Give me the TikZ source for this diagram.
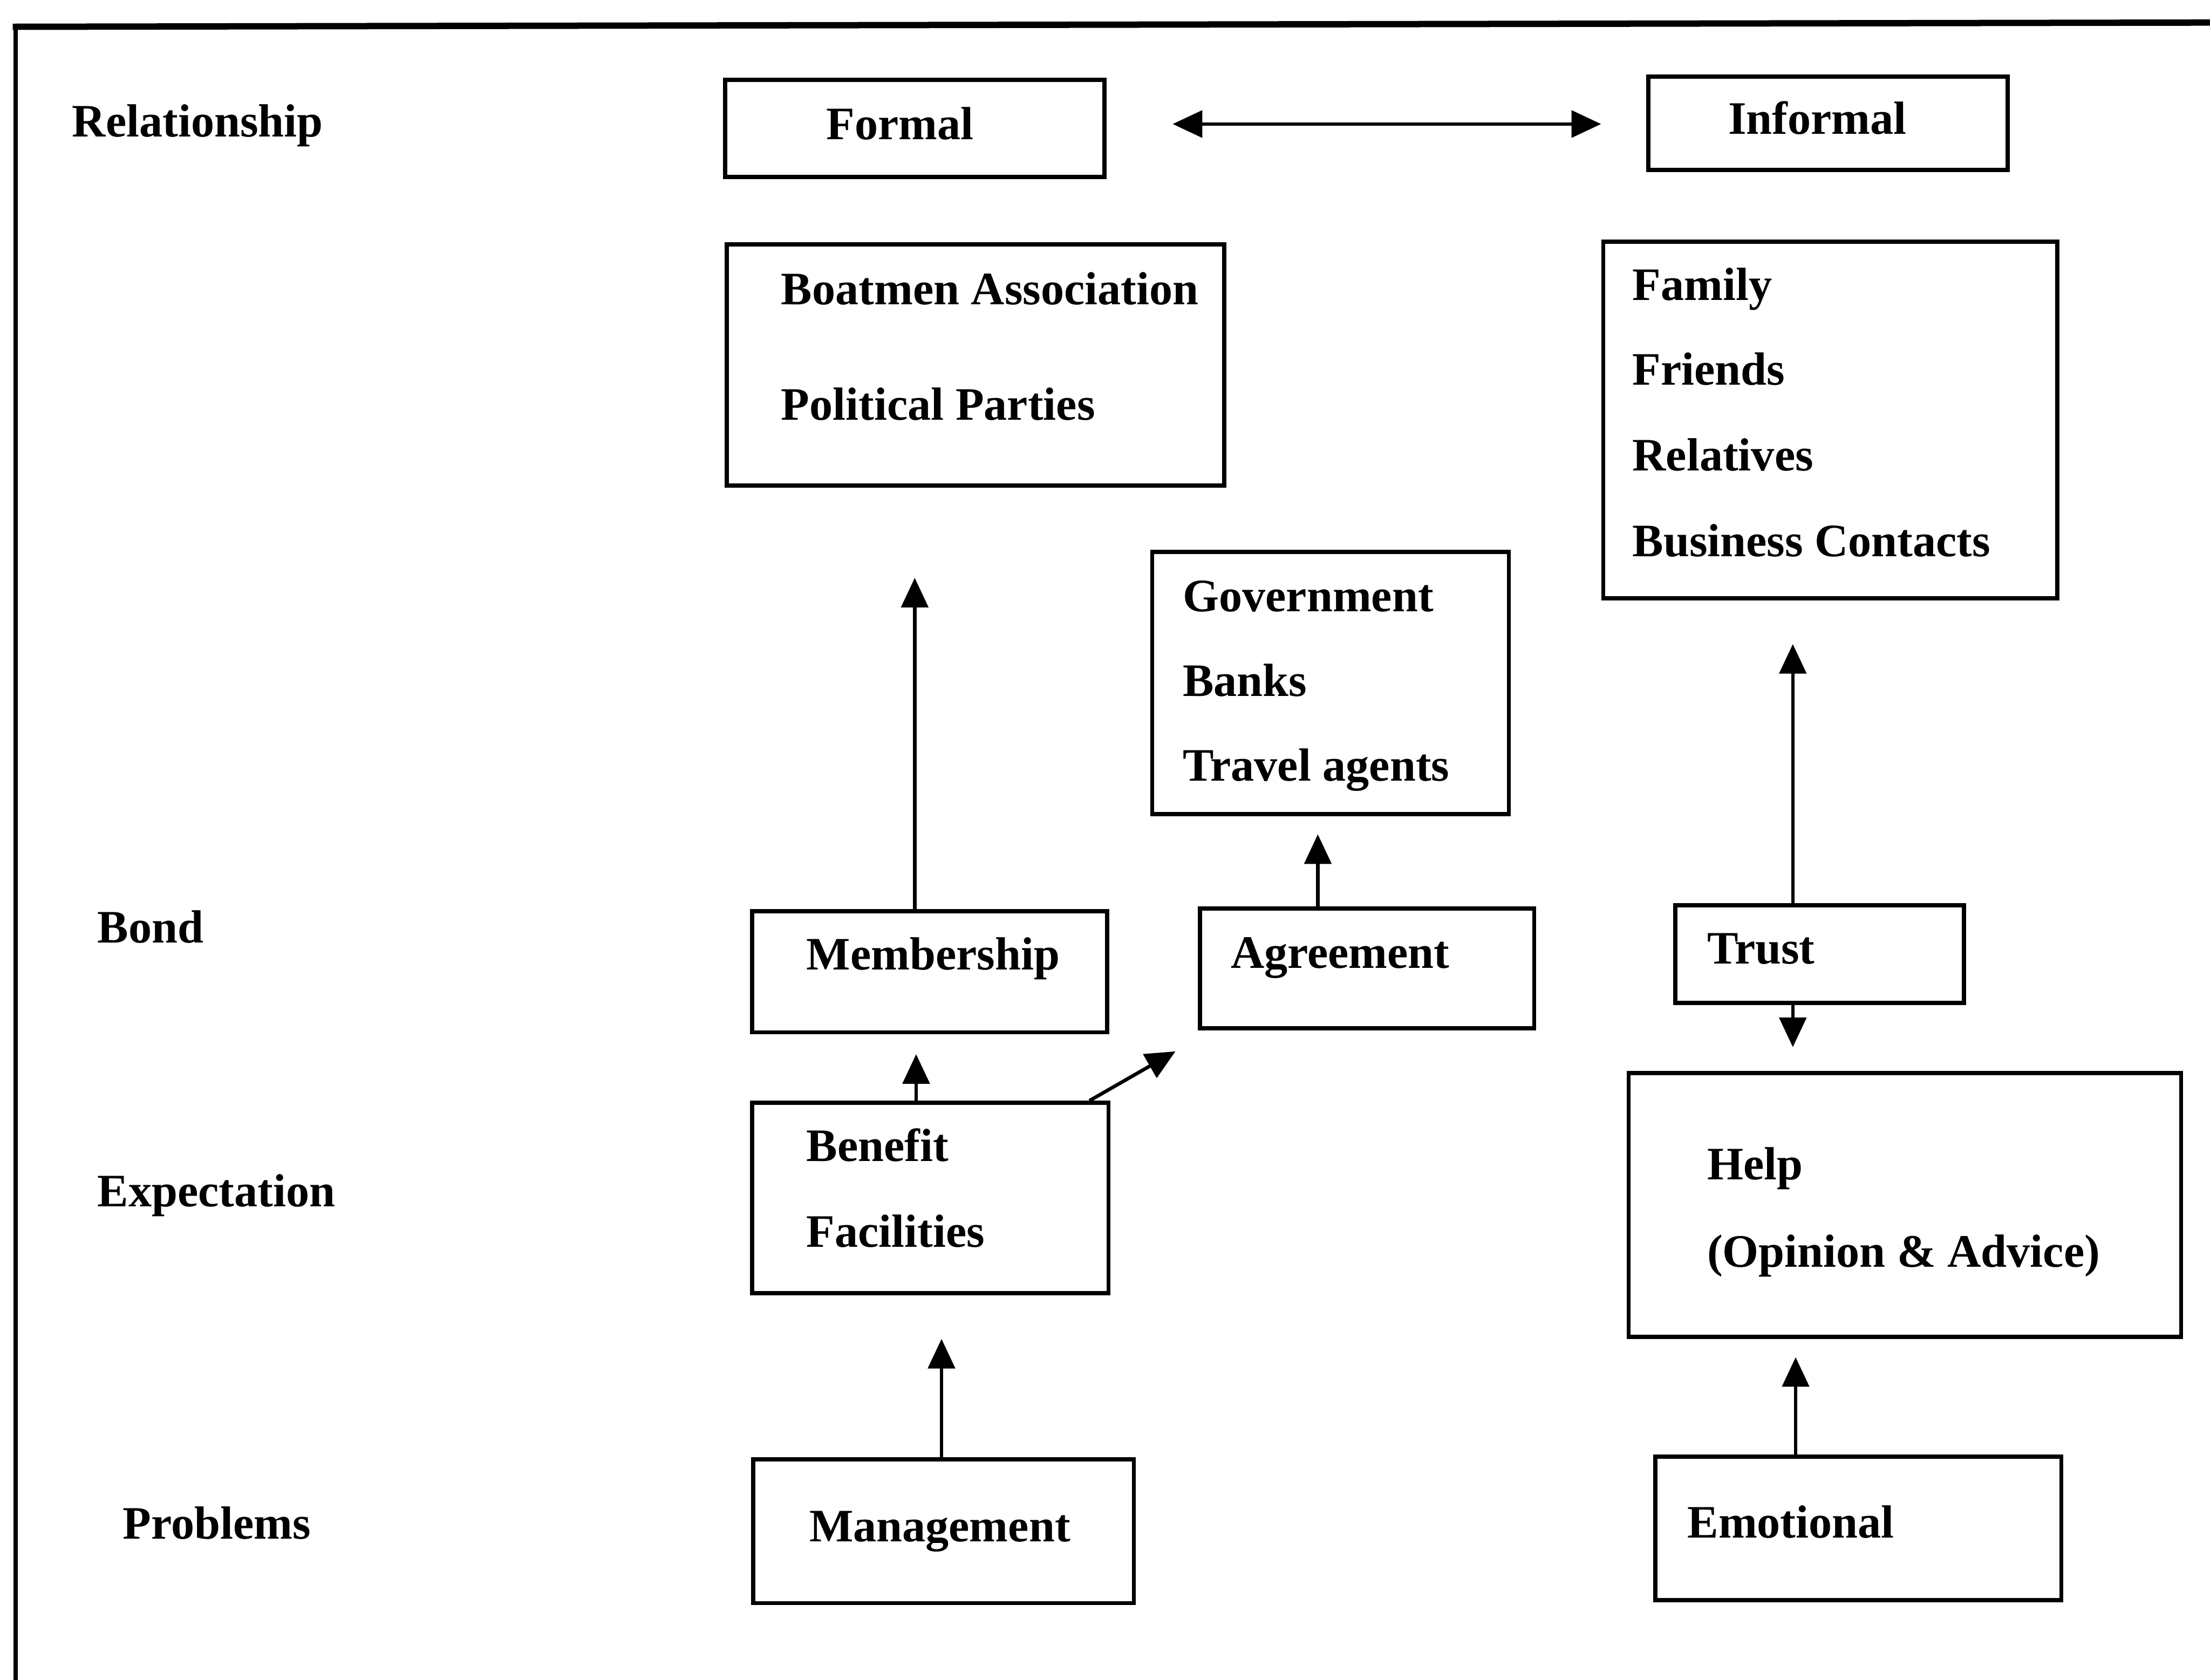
\documentclass[tikz,border=0pt]{standalone}
\usepackage{fontspec}
\setmainfont{Liberation Serif}
\usetikzlibrary{arrows.meta}

\tikzset{every picture/.style={line width=2.5pt}}
\tikzset{
  box/.style={draw, line width=3pt, inner sep=0pt, anchor=north west},
  lbl/.style={anchor=base west, inner sep=0pt, font=\bfseries\fontsize{33}{40}\selectfont},
  arr/.style={-{Triangle[length=21pt,width=19pt]}, line width=2.5pt},
  frame/.style={line width=3pt}
}

\begin{document}
\begin{tikzpicture}[x=1pt,y=1pt,yscale=-1,xscale=1]
	\useasboundingbox (0,0) rectangle (1568,1192);

	%Shape: Frame
	\draw [frame] (11,1192) -- (11,19) ;
	\draw [line width=4.5pt] (9,19) -- (1568,16) ;

	%Shape: Rectangle [Formal]
	\node [box, minimum width=269, minimum height=69] (formal) at (513,55) {};
	%Shape: Rectangle [Informal]
	\node [box, minimum width=255, minimum height=66] (informal) at (1168,53) {};
	%Shape: Rectangle [Associations]
	\node [box, minimum width=353, minimum height=171] (assoc) at (514,172) {};
	%Shape: Rectangle [Family]
	\node [box, minimum width=322, minimum height=253] (family) at (1136,170) {};
	%Shape: Rectangle [Government]
	\node [box, minimum width=253, minimum height=186] (govt) at (816,390) {};
	%Shape: Rectangle [Membership]
	\node [box, minimum width=252, minimum height=86] (memb) at (532,645) {};
	%Shape: Rectangle [Agreement]
	\node [box, minimum width=237, minimum height=85] (agree) at (850,643) {};
	%Shape: Rectangle [Trust]
	\node [box, minimum width=205, minimum height=69] (trust) at (1187,641) {};
	%Shape: Rectangle [Benefit]
	\node [box, minimum width=253, minimum height=135] (benefit) at (532,781) {};
	%Shape: Rectangle [Help]
	\node [box, minimum width=392, minimum height=187] (help) at (1154,760) {};
	%Shape: Rectangle [Management]
	\node [box, minimum width=270, minimum height=102] (mgmt) at (533,1034) {};
	%Shape: Rectangle [Emotional]
	\node [box, minimum width=288, minimum height=102] (emot) at (1173,1032) {};

	% Text Node
	\node [lbl] (tRel) at (50,97) {Relationship};
	% Text Node
	\node [lbl] (tBond) at (68,669) {Bond};
	% Text Node
	\node [lbl] (tExp) at (68,856) {Expectation};
	% Text Node
	\node [lbl] (tProb) at (86,1092) {Problems};
	% Text Node
	\node [lbl] (tFormal) at (585,99) {Formal};
	% Text Node
	\node [lbl] (tInformal) at (1225,95) {Informal};
	% Text Node
	\node [lbl] (tBoat) at (553,216) {Boatmen Association};
	% Text Node
	\node [lbl] (tPol) at (553,298) {Political Parties};
	% Text Node
	\node [lbl] (tFam) at (1157,213) {Family};
	% Text Node
	\node [lbl] (tFri) at (1157,273) {Friends};
	% Text Node
	\node [lbl] (tRelat) at (1157,334) {Relatives};
	% Text Node
	\node [lbl] (tBus) at (1157,395) {Business Contacts};
	% Text Node
	\node [lbl] (tGov) at (838,434) {Government};
	% Text Node
	\node [lbl] (tBank) at (838,494) {Banks};
	% Text Node
	\node [lbl] (tTrav) at (838,554) {Travel agents};
	% Text Node
	\node [lbl] (tMemb) at (571,688) {Membership};
	% Text Node
	\node [lbl] (tAgree) at (872,687) {Agreement};
	% Text Node
	\node [lbl] (tTrust) at (1210,684) {Trust};
	% Text Node
	\node [lbl] (tBen) at (571,824) {Benefit};
	% Text Node
	\node [lbl] (tFac) at (571,885) {Facilities};
	% Text Node
	\node [lbl] (tHelp) at (1210,837) {Help};
	% Text Node
	\node [lbl] (tOpin) at (1210,899) {(Opinion \& Advice)};
	% Text Node
	\node [lbl] (tMgmt) at (573,1094) {Management};
	% Text Node
	\node [lbl] (tEmot) at (1196,1091) {Emotional};

	% Arrow ends
	\coordinate (dblL) at (832,88);
	\coordinate (dblR) at (1136,88);
	\coordinate (membTip) at (649,410);
	\coordinate (agreeTip) at (935,592);
	\coordinate (trustTip) at (1272,457);
	\coordinate (helpTip) at (1272,743);
	\coordinate (benTip) at (650,748);
	\coordinate (diagTip) at (834,746);
	\coordinate (mgmtTip) at (668,950);
	\coordinate (emotTip) at (1274,963);

	% Connection
	\draw [arr, {Triangle[length=21pt,width=19pt]}-{Triangle[length=21pt,width=19pt]}] (dblL) -- (dblR) ;
	% Connection
	\draw [arr] (memb.north -| membTip) -- (membTip) ;
	% Connection
	\draw [arr] (agree.north -| agreeTip) -- (agreeTip) ;
	% Connection
	\draw [arr] (trust.north -| trustTip) -- (trustTip) ;
	% Connection
	\draw [arr] (trust.south -| helpTip) -- (helpTip) ;
	% Connection
	\draw [arr] (benefit.north -| benTip) -- (benTip) ;
	% Connection
	\draw [arr] ([xshift=-15]benefit.north east) -- (diagTip) ;
	% Connection
	\draw [arr] (mgmt.north -| mgmtTip) -- (mgmtTip) ;
	% Connection
	\draw [arr] (emot.north -| emotTip) -- (emotTip) ;

\end{tikzpicture}
\end{document}
